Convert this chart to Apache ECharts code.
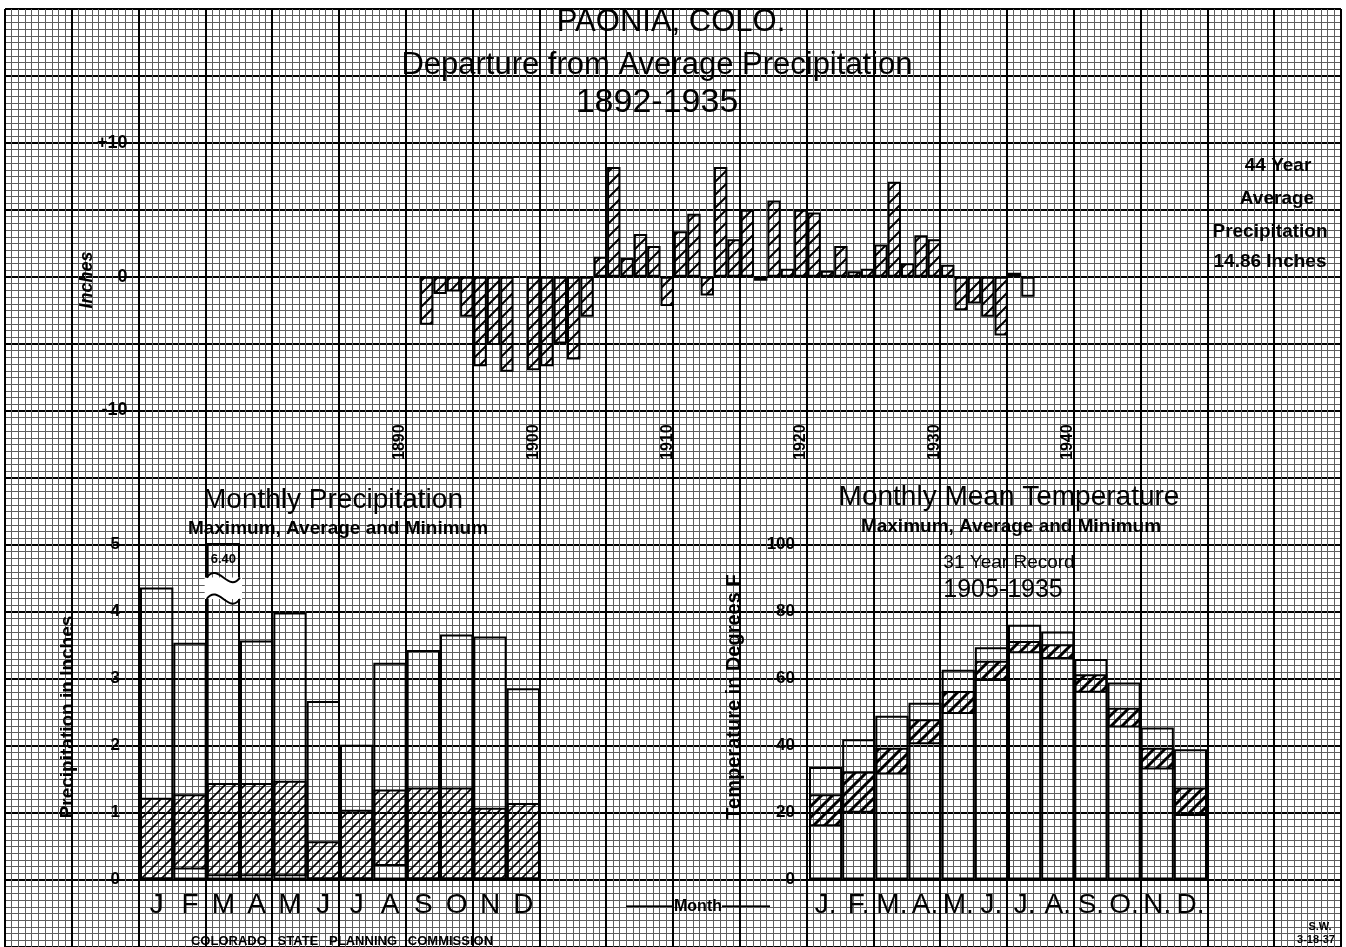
<!DOCTYPE html>
<html>
<head>
<meta charset="utf-8">
<script src="https://cdn.jsdelivr.net/npm/echarts@6/dist/echarts.min.js"></script>
<style>
html,body{margin:0;padding:0;background:#fff;}
#chart{width:1346px;height:947px;}
</style>
</head>
<body>
<div id="chart"></div>
<script>
// ---------------- DATA ----------------
// Departure from average annual precipitation (inches), Paonia, Colo.
const DEPARTURE_FIRST_YEAR = 1892;
const DEPARTURE = [
  -3.6, -1.3, -1.1, -3.0, -6.7, -5.1, -7.1, null, -7.0, -6.7,   // 1892-1901
  -5.0, -6.2, -3.0,  1.5,  8.2,  1.4,  3.2,  2.3, -2.2,  3.4,   // 1902-1911
   4.7, -1.4,  8.2,  2.8,  5.0, -0.3,  5.7,  0.6,  5.0,  4.8,   // 1912-1921
   0.45, 2.3,  0.4,  0.6,  2.4,  7.1,  1.0,  3.1,  2.8,  0.9,   // 1922-1931
  -2.5, -2.0, -3.0, -4.4,  0.3, -1.5                             // 1932-1937
];
const PARTIAL_YEARS = [1937];
const AXIS_FIRST_YEAR = 1871;
const AXIS_LAST_YEAR = 1949;
const YEAR_TICKS = ['1890', '1900', '1910', '1920', '1930', '1940'];

// Monthly precipitation (inches)
const MONTHS_P = ['J', 'F', 'M', 'A', 'M', 'J', 'J', 'A', 'S', 'O', 'N', 'D'];
const PREC_MAX = [4.35, 3.53, 6.40, 3.56, 3.98, 2.66, 2.01, 3.23, 3.42, 3.65, 3.62, 2.85];
const PREC_AVG = [1.22, 1.27, 1.44, 1.44, 1.47, 0.57, 1.04, 1.34, 1.37, 1.37, 1.07, 1.14];
const PREC_MIN = [0.00, 0.15, 0.05, 0.05, 0.05, 0.00, 0.00, 0.20, 0.00, 0.00, 0.00, 0.00];

// Monthly mean temperature (deg F)
const MONTHS_T = ['J.', 'F.', 'M.', 'A.', 'M.', 'J.', 'J.', 'A.', 'S.', 'O.', 'N.', 'D.'];
const TEMP_MAX = [33.5, 41.8, 48.8, 52.7, 62.5, 69.2, 75.9, 73.9, 65.7, 58.7, 45.3, 38.8];
const TEMP_AVG = [25.4, 32.3, 39.3, 47.8, 56.2, 65.2, 71.1, 70.1, 61.2, 51.2, 39.3, 27.4];
const TEMP_MIN = [15.9, 19.9, 31.3, 40.3, 49.3, 59.2, 67.4, 65.7, 55.7, 45.3, 32.8, 18.9];

// ---------------- STYLE HELPERS ----------------
const FONT = "'Liberation Sans', Arial, sans-serif";
function hatch(size, lw) {
  const c = document.createElement('canvas');
  c.width = size; c.height = size;
  const g = c.getContext('2d');
  g.strokeStyle = '#000';
  g.lineWidth = lw;
  g.beginPath();
  g.moveTo(-1, size + 1); g.lineTo(size + 1, -1);
  g.moveTo(-size / 2 - 1, size / 2 + 1); g.lineTo(size / 2 + 1, -size / 2 - 1);
  g.moveTo(size / 2 - 1, size * 1.5 + 1); g.lineTo(size * 1.5 + 1, size / 2 - 1);
  g.stroke();
  return { image: c, repeat: 'repeat' };
}
const HATCH_TOP = hatch(13, 2);
const HATCH_P = hatch(10, 1.6);
const HATCH_T = hatch(11, 3);
const CLEAR = 'rgba(0,0,0,0)';

// ---------------- DERIVED ----------------
const YEAR_CATS = [];
for (let y = AXIS_FIRST_YEAR; y <= AXIS_LAST_YEAR; y++) YEAR_CATS.push(String(y));
const depData = YEAR_CATS.map(ys => {
  const y = +ys, k = y - DEPARTURE_FIRST_YEAR;
  if (k < 0 || k >= DEPARTURE.length || DEPARTURE[k] == null) return null;
  if (PARTIAL_YEARS.includes(y)) return { value: DEPARTURE[k], itemStyle: { color: CLEAR } };
  return DEPARTURE[k];
});
const PREC_AXIS_MAX = 5;
const precBand = PREC_AVG.map((a, i) => +(a - PREC_MIN[i]).toFixed(2));
const tempBand = TEMP_AVG.map((a, i) => +(a - TEMP_MIN[i]).toFixed(2));
const precBreaks = PREC_MAX.map((v, i) => v > PREC_AXIS_MAX ? [i, v] : null).filter(d => d);

// ---------------- TEXT ----------------
function T(x, y, text, size, weight, extra) {
  return Object.assign({
    type: 'text', x: x, y: y, z: 50,
    style: Object.assign({
      text: text, fill: '#000', fontSize: size, fontWeight: weight || 'normal',
      fontFamily: FONT, textAlign: 'center', textVerticalAlign: 'middle'
    }, (extra && extra.style) || {})
  }, extra ? { rotation: extra.rotation || 0 } : {});
}

const graphics = [
  T(671, 22, 'PAONIA, COLO.', 31),
  T(657, 65, 'Departure from Average Precipitation', 31),
  T(657, 103, '1892-1935', 34),
  T(1278, 166, '44 Year', 19, 'bold'),
  T(1277, 199, 'Average', 19, 'bold'),
  T(1270, 232, 'Precipitation', 19, 'bold'),
  T(1270, 262, '14.86 Inches', 19, 'bold'),
  T(87, 280, 'Inches', 18, 'bold', { rotation: Math.PI / 2, style: { fontStyle: 'italic' } }),
  T(333, 500, 'Monthly Precipitation', 28),
  T(338, 529, 'Maximum, Average and Minimum', 19, 'bold'),
  T(68, 717, 'Precipitation in Inches', 19, 'bold', { rotation: Math.PI / 2 }),
  T(1009, 497, 'Monthly Mean Temperature', 28),
  T(1011, 527, 'Maximum, Average and Minimum', 19, 'bold'),
  T(1009, 563, '31 Year Record', 19),
  T(1003, 590, '1905-1935', 25),
  T(734, 697, 'Temperature in Degrees F', 20, 'bold', { rotation: Math.PI / 2 }),
  T(698, 907, '———Month———', 16, 'bold'),
  T(342, 941, 'COLORADO   STATE   PLANNING   COMMISSION', 13, 'bold'),
  T(1320, 927, 'S.W.', 11, 'bold'),
  T(1316, 940, '3-18-37', 11, 'bold')
];

// ---------------- CHART ----------------
const hidden = { axisLine: { show: false }, axisTick: { show: false }, axisLabel: { show: false } };
const option = {
  animation: false,
  backgroundColor: '#fff',
  grid: [
    { left: 5, top: 9, width: 1336, height: 938 },          // graph paper
    { left: 139.5, top: 143, width: 1055.4, height: 267.4 }, // departure chart
    { left: 140, top: 544, width: 400, height: 335.5 },      // precipitation
    { left: 809, top: 544, width: 398, height: 335.5 }       // temperature
  ],
  xAxis: [
    Object.assign({ gridIndex: 0, type: 'value', min: 0, max: 200, interval: 10,
      splitLine: { show: true, lineStyle: { color: '#000', width: 2 } },
      minorTick: { show: false, splitNumber: 10 },
      minorSplitLine: { show: true, lineStyle: { color: '#5e5e5e', width: 1 } } }, hidden),
    { gridIndex: 1, type: 'category', data: YEAR_CATS, boundaryGap: true,
      axisLine: { show: false }, axisTick: { show: false }, splitLine: { show: false },
      axisLabel: { interval: (idx, val) => YEAR_TICKS.includes(val), rotate: 90, margin: 14,
        fontSize: 16, fontWeight: 'bold', fontFamily: FONT, color: '#000' } },
    { gridIndex: 2, type: 'category', data: MONTHS_P,
      axisLine: { show: true, lineStyle: { color: '#000', width: 2 } }, axisTick: { show: false },
      axisLabel: { interval: 0, margin: 12, fontSize: 28, fontFamily: FONT, color: '#000' } },
    { gridIndex: 3, type: 'category', data: MONTHS_T,
      axisLine: { show: true, lineStyle: { color: '#000', width: 2 } }, axisTick: { show: false },
      axisLabel: { interval: 0, margin: 12, fontSize: 28, fontFamily: FONT, color: '#000' } }
  ],
  yAxis: [
    Object.assign({ gridIndex: 0, type: 'value', min: 0, max: 140, interval: 10, inverse: true,
      splitLine: { show: true, lineStyle: { color: '#000', width: 2 } },
      minorTick: { show: false, splitNumber: 10 },
      minorSplitLine: { show: true, lineStyle: { color: '#5e5e5e', width: 1 } } }, hidden),
    { gridIndex: 1, type: 'value', min: -10, max: 10, interval: 10,
      axisLine: { show: false }, axisTick: { show: false }, splitLine: { show: false },
      axisLabel: { margin: 12, fontSize: 18, fontWeight: 'bold', fontFamily: FONT, color: '#000',
        formatter: v => v > 0 ? '+' + v : String(v) } },
    { gridIndex: 2, type: 'value', min: 0, max: PREC_AXIS_MAX, interval: 1,
      axisLine: { show: false }, axisTick: { show: false }, splitLine: { show: false },
      axisLabel: { margin: 20, fontSize: 17, fontWeight: 'bold', fontFamily: FONT, color: '#000' } },
    { gridIndex: 3, type: 'value', min: 0, max: 100, interval: 20,
      axisLine: { show: false }, axisTick: { show: false }, splitLine: { show: false },
      axisLabel: { margin: 14, fontSize: 17, fontWeight: 'bold', fontFamily: FONT, color: '#000' } }
  ],
  series: [
    { type: 'bar', xAxisIndex: 1, yAxisIndex: 1, data: depData, barWidth: '100%', barCategoryGap: 0,
      itemStyle: { color: HATCH_TOP, borderColor: '#000', borderWidth: 2 }, z: 5 },

    { name: 'Maximum', type: 'bar', xAxisIndex: 2, yAxisIndex: 2, data: PREC_MAX, barWidth: '100%', barGap: '-100%',
      itemStyle: { color: CLEAR, borderColor: '#000', borderWidth: 2 }, z: 4 },
    { name: 'MinBase', type: 'bar', stack: 'p', xAxisIndex: 2, yAxisIndex: 2, data: PREC_MIN, barWidth: '100%', barGap: '-100%',
      itemStyle: { color: CLEAR, borderWidth: 0 }, z: 4 },
    { name: 'Average', type: 'bar', stack: 'p', xAxisIndex: 2, yAxisIndex: 2, data: precBand, barWidth: '100%', barGap: '-100%',
      itemStyle: { color: HATCH_P, borderColor: '#000', borderWidth: 2 }, z: 5 },
    { type: 'custom', xAxisIndex: 2, yAxisIndex: 2, data: precBreaks, z: 8,
      renderItem: (params, api) => {
        const i = api.value(0), v = api.value(1);
        const w = api.size([1, 0])[0];
        const lo = api.coord([i, 4.18]), hi = api.coord([i, 4.5]), lab = api.coord([i, 4.77]);
        const xl = lo[0] - w / 2, xr = lo[0] + w / 2;
        const wave = (yy) => ({ type: 'bezierCurve',
          shape: { x1: xl, y1: yy, x2: xr, y2: yy, cpx1: xl + w * 0.35, cpy1: yy - 16, cpx2: xl + w * 0.65, cpy2: yy + 16 },
          style: { stroke: '#000', lineWidth: 2, fill: null } });
        return { type: 'group', children: [
          { type: 'rect', shape: { x: xl - 2, y: hi[1], width: w + 4, height: lo[1] - hi[1] }, style: { fill: '#fff' } },
          wave(lo[1]), wave(hi[1]),
          { type: 'text', style: { text: v.toFixed(2), x: lo[0], y: lab[1], textAlign: 'center', textVerticalAlign: 'middle',
              fontSize: 13, fontWeight: 'bold', fontFamily: FONT, fill: '#000' } }
        ] };
      } },

    { name: 'Maximum', type: 'bar', xAxisIndex: 3, yAxisIndex: 3, data: TEMP_MAX, barWidth: '100%', barGap: '-100%',
      itemStyle: { color: CLEAR, borderColor: '#000', borderWidth: 2 }, z: 4 },
    { name: 'MinBase', type: 'bar', stack: 't', xAxisIndex: 3, yAxisIndex: 3, data: TEMP_MIN, barWidth: '100%', barGap: '-100%',
      itemStyle: { color: CLEAR, borderWidth: 0 }, z: 4 },
    { name: 'Average', type: 'bar', stack: 't', xAxisIndex: 3, yAxisIndex: 3, data: tempBand, barWidth: '100%', barGap: '-100%',
      itemStyle: { color: HATCH_T, borderColor: '#000', borderWidth: 2 }, z: 5 }
  ],
  graphic: graphics
};
const chart = echarts.init(document.getElementById('chart'), null, { renderer: 'canvas' });
chart.setOption(option);
</script>
</body>
</html>
